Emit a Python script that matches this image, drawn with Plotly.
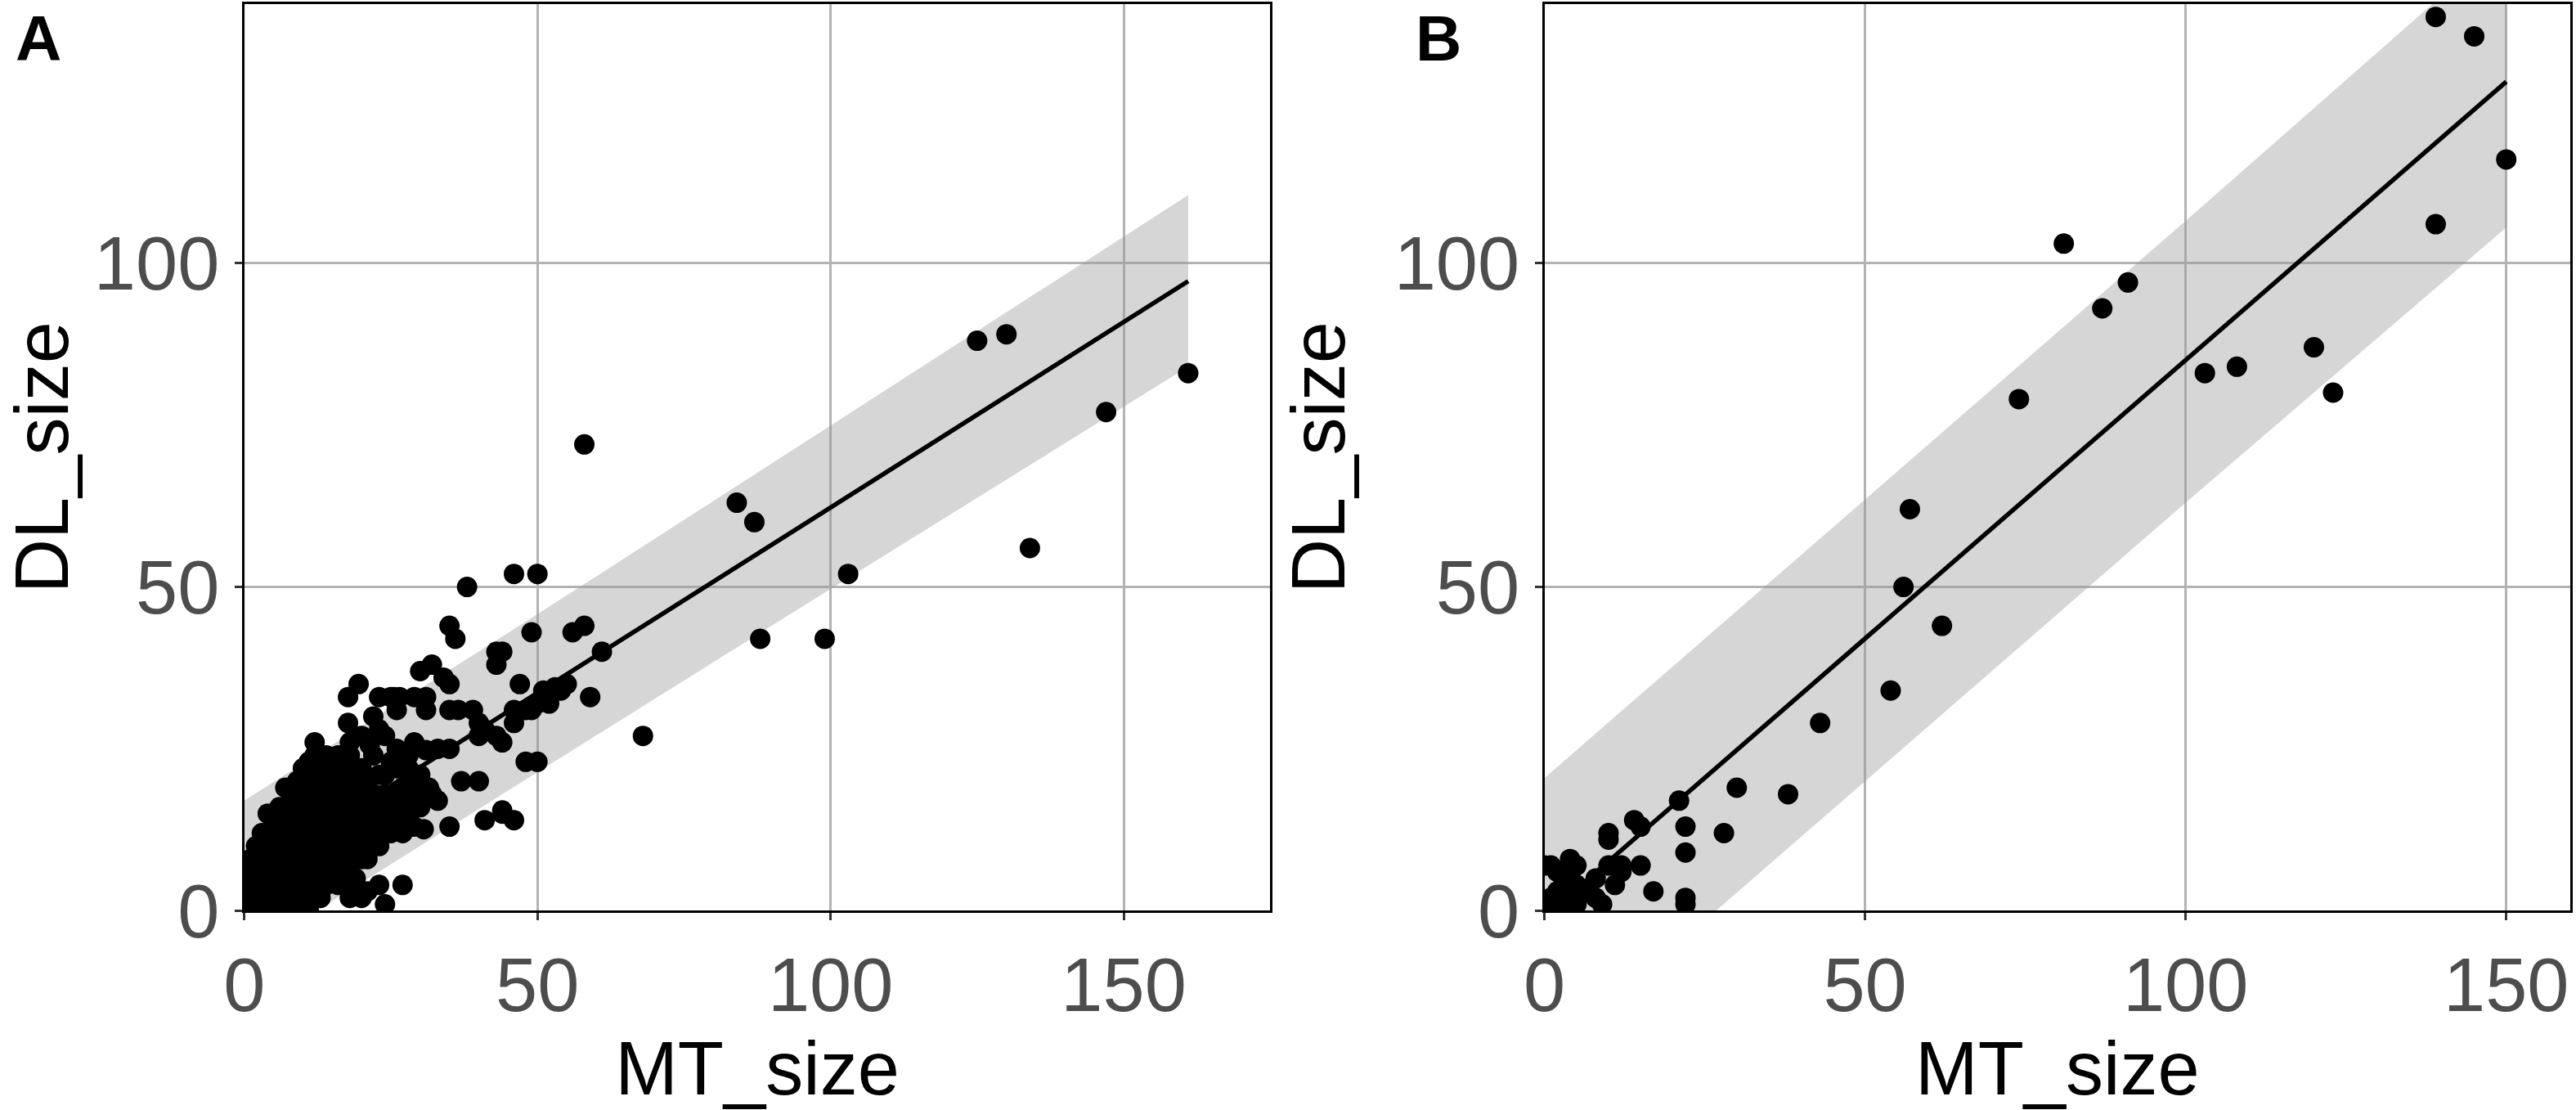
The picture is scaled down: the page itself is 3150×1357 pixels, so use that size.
import plotly.graph_objects as go

# ---- panel A: MT_size vs DL_size (many small sizes) ----
# dense cluster near the origin, read row by row
blob_x = [0, 2, 4, 6, 8, 10, 11,
          0, 2, 4, 6, 8, 10, 12, 13,
          0, 2, 4, 6, 8, 10, 12, 14, 16,
          0, 2, 4, 6, 8, 10, 12, 14, 16, 18,
          1, 2, 4, 6, 8, 10, 12, 14, 16, 18, 20, 21,
          2, 4, 6, 8, 10, 12, 14, 16, 18, 20, 22, 23,
          3, 5, 7, 9, 11, 13, 15, 17, 19, 21, 23, 25, 27,
          4, 5, 7, 9, 11, 13, 15, 17, 19, 21, 23, 25, 27,
          6, 8, 10, 12, 14, 16, 18, 20, 22, 24, 26,
          7, 8, 10, 12, 14, 16, 18, 20, 22, 24,
          9, 11, 13, 15, 17, 19, 21, 23,
          10, 12, 14, 16, 18, 20,
          11, 12, 14, 16, 18]
blob_y = [0, 0, 0, 0, 0, 0, 0,
          2, 2, 2, 2, 2, 2, 2, 2,
          4, 4, 4, 4, 4, 4, 4, 4, 4,
          6, 6, 6, 6, 6, 6, 6, 6, 6, 6,
          8, 8, 8, 8, 8, 8, 8, 8, 8, 8, 8, 8,
          10, 10, 10, 10, 10, 10, 10, 10, 10, 10, 10, 10,
          12, 12, 12, 12, 12, 12, 12, 12, 12, 12, 12, 12, 12,
          15, 14, 14, 14, 14, 14, 14, 14, 14, 14, 14, 14, 14,
          16, 16, 16, 16, 16, 16, 16, 16, 16, 16, 16,
          19, 18, 18, 18, 18, 18, 18, 18, 18, 18,
          20, 20, 20, 20, 20, 20, 20, 21,
          22, 22, 22, 22, 22, 22,
          23, 24, 24, 24, 24]

# scattered points outside the cluster
spread_x = [125, 130, 161, 147, 134, 103, 99, 88, 84, 87, 58, 68, 61, 59,
            46, 50, 38, 35, 36, 49, 56, 58, 43, 44, 43, 47,
            51, 53, 55, 52, 48, 50, 54,
            40, 43, 46, 48, 50, 40, 37, 41, 44, 46, 35,
            30, 32, 34, 35, 25.5, 26, 29, 31, 31, 35, 36.5, 39,
            49, 52, 46, 40, 41, 44, 33, 35, 29, 31, 33, 31.5, 32, 44,
            19.5, 17.7, 23, 25, 26.5, 17.7, 22, 23, 12, 18, 20, 21.4, 24,
            26, 28, 30, 27, 29, 30, 28, 29, 30.6, 28, 25, 27,
            25, 27, 29, 22, 26, 28, 24, 26,
            27, 24, 23, 21, 19, 18, 20, 19]
spread_y = [88, 89, 83, 77, 56, 52, 42, 42, 63, 60, 72, 27, 40, 33,
            52, 52, 50, 44, 42, 43, 43, 44, 40, 40, 38, 35,
            34, 34.5, 35, 33, 31, 32, 34,
            29, 27, 31, 23, 23, 20, 20, 14, 15, 14, 13,
            37, 38, 36, 35, 33, 31, 33, 33, 31, 31, 31, 31,
            31, 32, 29, 27, 28, 26, 25, 25, 26, 24.8, 17, 19, 18, 15.5,
            35, 33, 33, 33, 33, 29, 30, 28, 26, 26, 27, 25.6, 27,
            22, 22, 21, 19, 18, 16, 15, 13, 12.6, 17, 23, 24,
            16, 17, 20, 24, 25, 24, 21, 18,
            4, 1, 4, 3, 3, 2, 2, 5]

mt_a = blob_x + spread_x
dl_a = blob_y + spread_y

fit_a_x = [0, 161]
fit_a_y = [5, 97.2]
band_a_x = [0, 50, 100, 161]
band_a_hi = [17, 45.8, 74.9, 110.5]
band_a_lo = [-7, 21.4, 49.7, 84]

# ---- panel B ----
mt_b = [139, 145, 150, 139, 81, 91, 87, 120, 103, 108, 123, 74, 57, 56, 62, 54,
        43, 30, 38, 21, 28, 22, 22, 22, 22, 14, 15, 10, 10, 15, 10, 12, 12, 11,
        17, 9, 8, 7, 4, 5, 1, 0, 2, 3, 4, 5, 1, 3, 4, 5, 1, 2, 4, 8]
dl_b = [138, 135, 116, 106, 103, 97, 93, 87, 83, 84, 80, 79, 62, 50, 44, 34,
        29, 19, 18, 17, 12, 13, 9, 2, 1, 14, 13, 12, 11, 7, 7, 7, 6, 4,
        3, 1, 5, 3, 8, 7, 7, 7, 6, 5, 4, 4, 2, 1, 1, 1, 1, 3, 3, 2]

fit_b_x = [1, 150]
fit_b_y = [-0.1, 128]
band_b_x = [0, 50, 100, 150]
band_b_hi = [20.5, 63.5, 106.5, 150]
band_b_lo = [-23, 20, 63, 105.5]

band_fill = "rgba(153,153,153,0.4)"
pt_size = 25

fig = go.Figure()


def add_panel(fig, xs, ys, fx, fy, bx, bhi, blo, xa, ya):
    fig.add_trace(go.Scatter(x=bx + bx[::-1], y=bhi + blo[::-1], fill="toself",
                             fillcolor=band_fill, line=dict(width=0),
                             mode="lines", hoverinfo="skip", showlegend=False,
                             xaxis=xa, yaxis=ya))
    fig.add_trace(go.Scatter(x=xs, y=ys, mode="markers",
                             marker=dict(size=pt_size, color="black"),
                             showlegend=False, xaxis=xa, yaxis=ya))
    fig.add_trace(go.Scatter(x=fx, y=fy, mode="lines",
                             line=dict(color="black", width=5.5),
                             showlegend=False, xaxis=xa, yaxis=ya))


add_panel(fig, mt_a, dl_a, fit_a_x, fit_a_y, band_a_x, band_a_hi, band_a_lo, "x", "y")
add_panel(fig, mt_b, dl_b, fit_b_x, fit_b_y, band_b_x, band_b_hi, band_b_lo, "x2", "y2")

font_family = "Liberation Sans, Arial, sans-serif"
tick_font = dict(family=font_family, size=92, color="#4d4d4d")
title_font = dict(family=font_family, size=92, color="black")

common = dict(showline=True, mirror=True, linecolor="black", linewidth=3,
              showgrid=True, gridcolor="#b3b3b3", gridwidth=2.5,
              zeroline=False, ticks="outside", ticklen=9, tickwidth=2.5,
              tickcolor="#333333", tickfont=tick_font, tickmode="array")

y_dom = [0.1474, 0.9963]

fig.update_layout(
    width=3150, height=1357,
    margin=dict(l=0, r=0, t=0, b=0),
    paper_bgcolor="white", plot_bgcolor="white",
    xaxis=dict(domain=[0.0873, 0.4889], range=[0, 175], tickvals=[0, 50, 100, 150],
               title=dict(text="MT_size", font=title_font, standoff=14),
               anchor="y", **common),
    yaxis=dict(domain=y_dom, range=[0, 140], tickvals=[0, 50, 100],
               title=dict(text="DL_size", font=title_font, standoff=30),
               anchor="x", **common),
    xaxis2=dict(domain=[0.5962, 0.9978], range=[0, 160], tickvals=[0, 50, 100, 150],
                title=dict(text="MT_size", font=title_font, standoff=14),
                anchor="y2", **common),
    yaxis2=dict(domain=y_dom, range=[0, 140], tickvals=[0, 50, 100],
                title=dict(text="DL_size", font=title_font, standoff=30),
                anchor="x2", **common),
    annotations=[
        dict(text="<b>A</b>", x=-0.003, y=0.999, xref="paper", yref="paper",
             xanchor="left", yanchor="top", showarrow=False,
             font=dict(family=font_family, size=78, color="black")),
        dict(text="<b>B</b>", x=0.545, y=0.999, xref="paper", yref="paper",
             xanchor="left", yanchor="top", showarrow=False,
             font=dict(family=font_family, size=78, color="black")),
    ],
)

fig.write_html("out.html", config={"displayModeBar": False},
               post_script="document.body.style.margin='0';")
